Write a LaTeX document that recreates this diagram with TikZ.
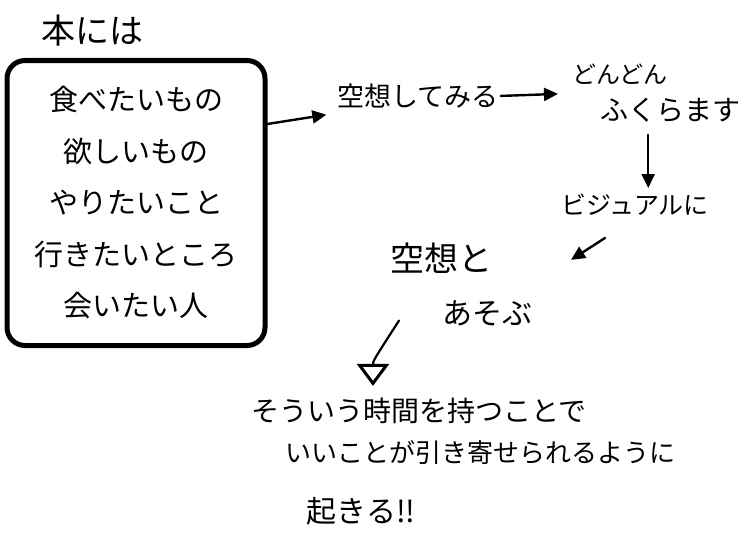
\documentclass[tikz,border=0pt]{standalone}
\usepackage{fontspec}
\newfontfamily\jp{Noto Sans CJK JP}
\usetikzlibrary{arrows.meta}
\newcommand\jsz[1]{\fontsize{#1}{#1}\selectfont}
\tikzset{
  txt/.style={font=\jp, inner sep=0pt},
  arr/.style={line width=2.4pt, line cap=round, -{Triangle[length=14pt,width=13pt]}},
  oarr/.style={line width=2.2pt, line cap=round, -{Triangle[open,length=22pt,width=32pt,line width=3pt]}},
  memo/.style={draw, line width=5pt, rounded corners=18pt, minimum width=258pt,
    minimum height=285pt, align=center, inner sep=0pt, font=\jp\fontsize{29}{51.5}\selectfont}
}
\begin{document}
\begin{tikzpicture}[x=1pt,y=-1pt]
\useasboundingbox[fill=white] (0,0) rectangle (746,535);

\node[txt, font=\jp\jsz{34}] (title) at (92,31) {本には};
\node[memo] (b) at (136,203) {食べたいもの\\欲しいもの\\やりたいこと\\行きたいところ\\会いたい人};

\node[txt, font=\jp\jsz{27}] (s1) at (418,96) {空想してみる};
\node[txt, font=\jp\jsz{28}, align=left, anchor=north west] (dd) at (572,64)
  {{\jsz{24}どんどん}\\[9pt]\hspace*{28pt}ふくらます};
\node[txt, font=\jp\jsz{25}] (vis) at (635,205) {ビジュアルに};
\node[txt, font=\jp\jsz{34}, align=left, anchor=north west] (ka) at (390,243)
  {空想と\\[19pt]\hspace*{52pt}{\jsz{30}あそぶ}};

\node[txt, font=\jp\jsz{28}] (p1) at (419,411) {そういう時間を持つことで};
\node[txt, font=\jp\jsz{26}] (p2) at (480,453) {いいことが引き寄せられるように};
\node[txt, font=\jp\jsz{30}] (p3) at (361,511) {起きる!!};

\coordinate (k0) at ([shift={(9pt,6pt)}]ka.south west);
\coordinate (k1) at ([shift={(-46pt,12pt)}]p1.north);

\draw[arr, shorten >=11pt] (b.31) -- ([yshift=-17pt]s1.west);
\draw[arr, shorten <=2pt, shorten >=14pt] (s1.east) -- (dd.west);
\draw[arr, shorten <=12pt, shorten >=6pt] ([xshift=-8pt]dd.south) -- ([xshift=-8pt]dd.south |- vis.north);
\draw[arr, shorten >=46pt] ([shift={(-30pt,-22pt)}]vis.south) -- (ka.east);
\draw[oarr] (k0) .. controls ([yshift=25pt]k1) .. (k1);
\end{tikzpicture}
\end{document}
